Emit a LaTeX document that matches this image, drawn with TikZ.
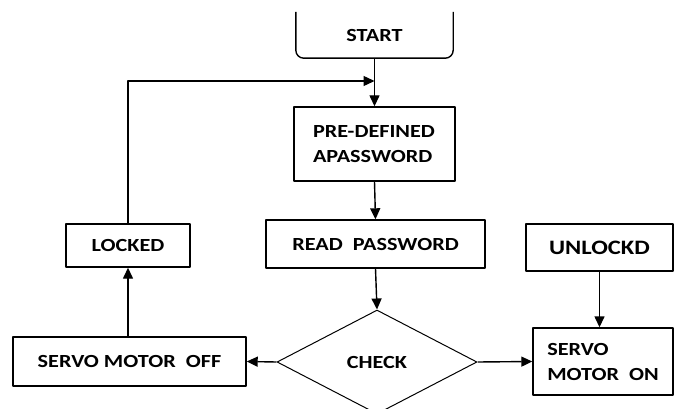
\documentclass[tikz,border=0pt]{standalone}
\usepackage{fontspec}
\setmainfont{Carlito}[FakeStretch=1.2]
\usetikzlibrary{shapes.geometric,arrows.meta}
\begin{document}
\begin{tikzpicture}[x=1pt,y=-1pt,line join=round,
    font=\fontsize{18.5}{25}\selectfont\bfseries,
    box/.style={draw,line width=1.4pt,inner sep=0pt},
    decision/.style={draw,shape=diamond,line width=1pt,inner sep=0pt,
      minimum width=200pt,minimum height=104pt},
    arrow/.style={line width=1.4pt,-{Triangle[length=11pt,width=10pt]}}]
  \useasboundingbox (0,0) rectangle (674,409);
  % nodes
  \node (start) [minimum width=157pt,minimum height=46pt,inner sep=0pt]
    at (374.5,35) {START};
  \draw[line width=1.4pt,rounded corners=8pt]
    (start.north west) -- (start.south west) --
    (start.south east) -- (start.north east);
  \node (pre) [box,minimum width=161pt,minimum height=74pt,
    align=left,text width=123pt] at (374.5,144) {PRE-DEFINED\\APASSWORD};
  \node (read) [box,minimum width=219pt,minimum height=48pt]
    at (375.5,244) {READ\ \ PASSWORD};
  \node (check) [decision] at (377,362) {CHECK};
  \node (off) [box,minimum width=233pt,minimum height=49pt]
    at (129.5,361.5) {SERVO\ MOTOR\ \ OFF};
  \node (locked) [box,minimum width=124pt,minimum height=43pt]
    at (128,245.5) {LOCKED};
  \node (unlock) [box,minimum width=147pt,minimum height=47pt,
    font=\fontsize{20.5}{24}\selectfont\bfseries] at (599.5,247.5) {UNLOCKD};
  \node (on) [box,minimum width=140pt,minimum height=67pt,
    align=left] at (603,361.5) {SERVO\\MOTOR\ \ ON};
  \coordinate (merge) at (374.5,81);
  % connectors
  \draw[arrow] (start.south) -- (pre.north);
  \draw[arrow] (locked.north) |- (merge);
  \draw[arrow] (pre.south) -- (read.north);
  \draw[arrow] (read.south) -- (check.north);
  \draw[arrow] (check.west) -- (off.east);
  \draw[arrow] (off.north -| locked.south) -- (locked.south);
  \draw[arrow] (check.east) -- (on.west);
  \draw[arrow] (unlock.south) -- (unlock.south |- on.north);
\end{tikzpicture}
\end{document}
